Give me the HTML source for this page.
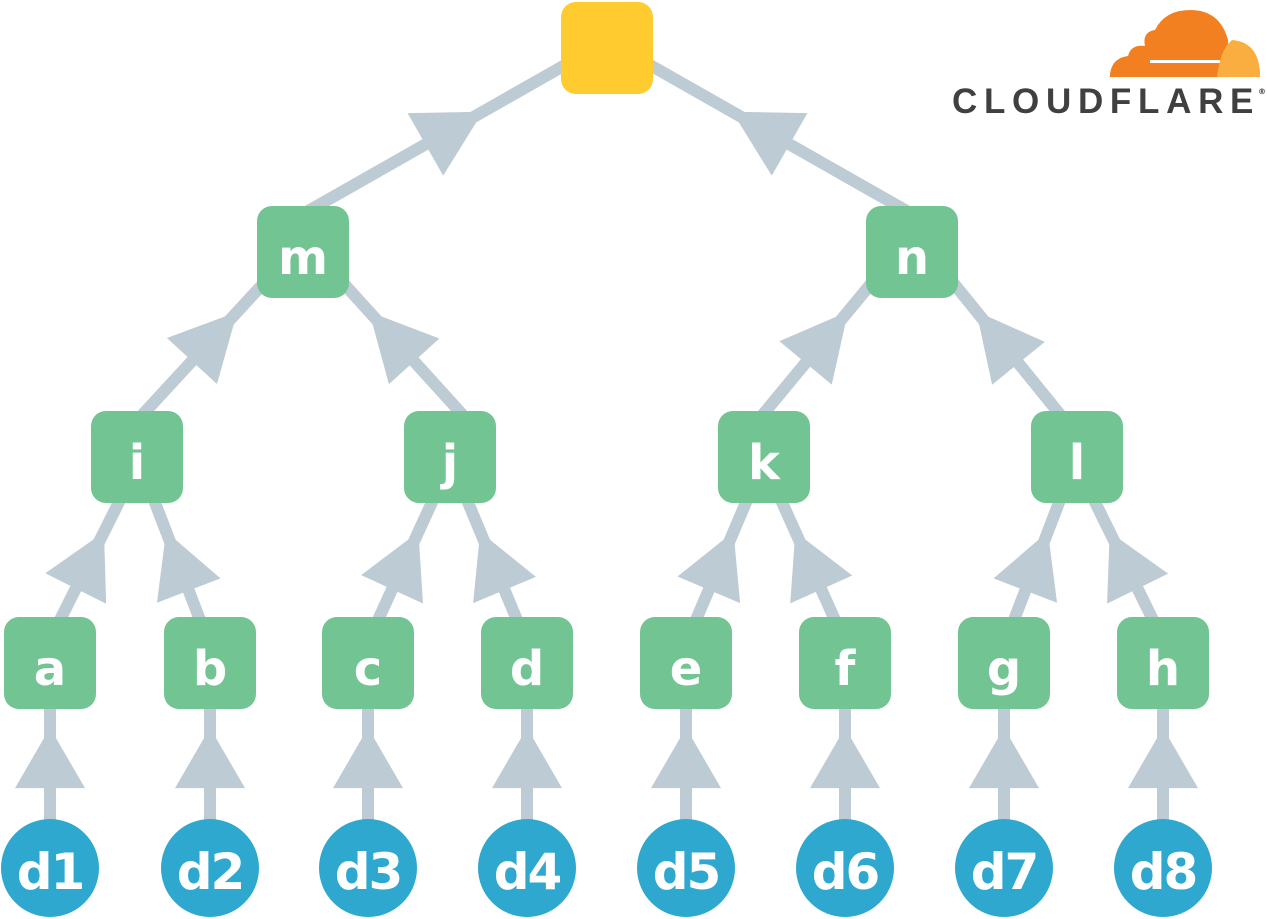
<!DOCTYPE html>
<html><head><meta charset="utf-8"><style>
html,body{margin:0;padding:0;background:#fff;}
svg{display:block}
text{font-family:"DejaVu Sans","Liberation Sans",sans-serif;font-weight:bold;fill:#fff;text-anchor:middle}
</style></head><body>
<svg id="s" width="1267" height="919" viewBox="0 0 1267 919" xmlns="http://www.w3.org/2000/svg">
<g id="edges" stroke="#BDCBD4" stroke-width="12" fill="none"></g>
<g id="arrows" fill="#BDCBD4"></g>
<g id="nodes"></g>
<g>
<path d="M1110,77 L1110,74 Q1112,58 1128,56 Q1131,44 1145,46 Q1142,32 1155,30 Q1165,10 1190,10 Q1220,10 1228,40 L1228,77 Z" fill="#F38020"/>
<path d="M1217,77 Q1220,50 1232,40 Q1258,42 1260,72 L1260,77 Z" fill="#FAAE40"/>
<rect x="1150" y="60" width="70" height="3" fill="#fff"/>
<text x="952" y="113" style="fill:#404041;font-family:'Liberation Sans',sans-serif;font-size:35px;letter-spacing:6.7px;text-anchor:start">CLOUDFLARE</text>
<text x="1262" y="94" style="fill:#404041;font-size:8px">®</text>
</g>
</svg>
<script>
var NS="http://www.w3.org/2000/svg";
function el(p,t,a){var e=document.createElementNS(NS,t);for(var k in a)e.setAttribute(k,a[k]);document.getElementById(p).appendChild(e);return e;}
function edge(cx,cy,px,py,t,L,hw){
 var dx=px-cx,dy=py-cy,len=Math.hypot(dx,dy),ux=dx/len,uy=dy/len;
 el("edges","line",{x1:cx-ux*30,y1:cy-uy*30,x2:px+ux*30,y2:py+uy*30});
 var ax=cx+dx*t,ay=cy+dy*t,bx=ax-ux*L,by=ay-uy*L,nx=-uy,ny=ux,tw=6;
 el("arrows","polygon",{points:[ax+nx*tw,ay+ny*tw,ax-nx*tw,ay-ny*tw,bx-nx*hw,by-ny*hw,bx+nx*hw,by+ny*hw].join(",")});
}
edge(310,210,565,65,0.64,55,36);
edge(905,210,650,65,0.64,55,36);
edge(145,412,262,285,0.72,55,34);
edge(460,412,345,285,0.72,55,34);
edge(765,412,870,285,0.72,55,34);
edge(1058,412,955,285,0.72,55,34);
var lx=[50,210,368,527,686,845,1004,1163],px=[137,137,450,450,764,764,1077,1077];
for(var i=0;i<8;i++){var s=px[i]>lx[i]?1:-1;
 edge(lx[i]+s*10,620,px[i]-s*17,500,0.65,52,34);
 edge(lx[i],821,lx[i],709,0.74,50,35);}
function node(x,y,l,c){el("nodes","rect",{x:x-46,y:y-46,width:92,height:92,rx:15,fill:c||"#72C593"});
 if(l){var t=el("nodes","text",{x:x,y:y+22,"font-size":48});t.textContent=l;}}
node(607,48,"","#FFCB2F");
node(303,252,"m");node(912,252,"n");
node(137,457,"i");node(450,457,"j");node(764,457,"k");node(1077,457,"l");
var L="abcdefgh";
for(var i=0;i<8;i++){node(lx[i],663,L[i]);
 el("nodes","circle",{cx:lx[i],cy:868,r:49,fill:"#2EA8CE"});
 var t=el("nodes","text",{x:lx[i],y:889,"font-size":50,"letter-spacing":"-2"});t.textContent="d"+(i+1);}
</script>
</body></html>
